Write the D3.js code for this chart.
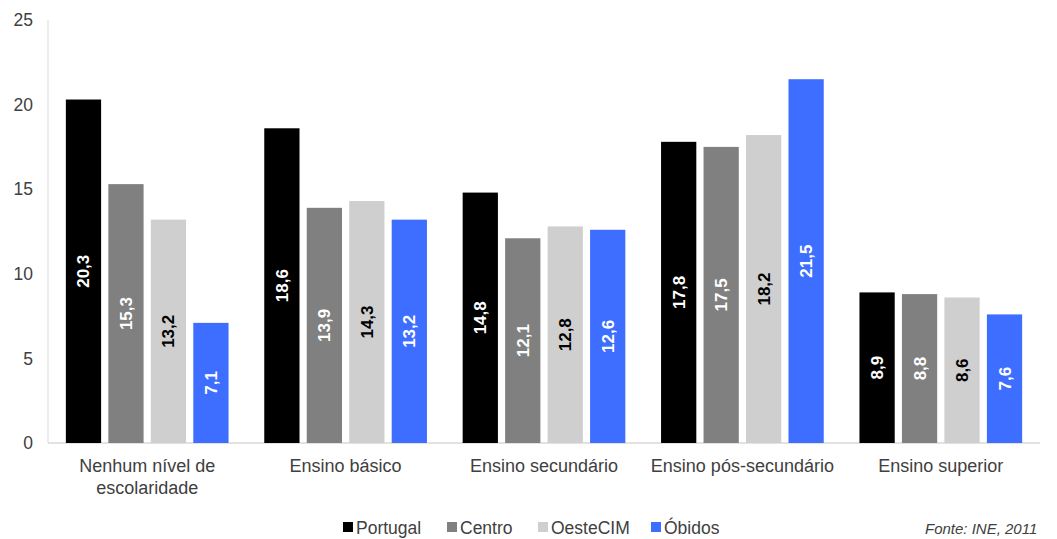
<!DOCTYPE html>
<html><head><meta charset="utf-8">
<script src="https://cdn.jsdelivr.net/npm/d3@7"></script>
<style>body{margin:0;background:#fff;overflow:hidden}svg{display:block;font-family:"Liberation Sans",Arial,sans-serif}</style>
</head><body><svg id="c" width="1057" height="539"></svg>
<script>
const categories = ["Nenhum nível de|escolaridade","Ensino básico","Ensino secundário","Ensino pós-secundário","Ensino superior"];
const seriesNames = ["Portugal","Centro","OesteCIM","Óbidos"];
const portugal = [20.3,18.6,14.8,17.8,8.9];
const centro = [15.3,13.9,12.1,17.5,8.8];
const oeste = [13.2,14.3,12.8,18.2,8.6];
const obidos = [7.1,13.2,12.6,21.5,7.6];
const yTicks = [0,5,10,15,20,25];
const colors = ["#000000","#808080","#d0cfcf","#3d6eff"];
const labelColors = ["#ffffff","#ffffff","#000000","#ffffff"];
const values = [portugal, centro, oeste, obidos];

const svg = d3.select("#c");
const pLeft = 48, pRight = 1040, pTop = 20, pBottom = 443;
const y = d3.scaleLinear().domain([0,25]).range([pBottom, pTop]);
const x0 = d3.scaleBand().domain(categories).range([pLeft, pRight]).paddingInner(0.18).paddingOuter(0.09);
const x1 = d3.scaleBand().domain(seriesNames).range([0, x0.bandwidth()]).paddingInner(0.17);

svg.append("line").attr("x1",pLeft).attr("x2",pLeft).attr("y1",pTop).attr("y2",pBottom).attr("stroke","#d9d9d9");
svg.append("line").attr("x1",pLeft).attr("x2",pRight).attr("y1",pBottom).attr("y2",pBottom).attr("stroke","#d9d9d9").attr("stroke-width",1.5);

const yAxis = d3.axisLeft(y).tickValues(yTicks).tickSize(0).tickPadding(0);
const ga = svg.append("g").attr("transform",`translate(${pLeft-15},0)`).call(yAxis);
ga.select(".domain").remove();
ga.selectAll("text").attr("font-size",17.5).attr("fill","#404040").attr("font-family","Liberation Sans, Arial, sans-serif");

categories.forEach((cat,ci)=>{
  const g = svg.append("g").attr("transform",`translate(${x0(cat)},0)`);
  seriesNames.forEach((s,si)=>{
    const v = values[si][ci];
    const bx = x1(s), bw = x1.bandwidth();
    g.append("rect").attr("x",bx).attr("y",y(v)).attr("width",bw).attr("height",y(0)-y(v)).attr("fill",colors[si]);
    const cy = (y(v)+y(0))/2, cx = bx+bw/2;
    g.append("text").attr("transform",`translate(${cx+6},${cy}) rotate(-90)`)
      .attr("text-anchor","middle").attr("font-size",17).attr("font-weight","bold")
      .attr("fill",labelColors[si]).text(String(v.toFixed(1)).replace(".",","));
  });
  const lines = cat.split("|");
  const t = svg.append("text").attr("x",x0(cat)+x0.bandwidth()/2).attr("y",472)
    .attr("text-anchor","middle").attr("font-size",18).attr("fill","#404040");
  lines.forEach((l,i)=>t.append("tspan").attr("x",x0(cat)+x0.bandwidth()/2).attr("dy",i?22:0).text(l));
});

const legX = [343,447,538,651];
seriesNames.forEach((s,i)=>{
  svg.append("rect").attr("x",legX[i]).attr("y",522).attr("width",10).attr("height",10).attr("fill",colors[i]);
  svg.append("text").attr("x",legX[i]+13).attr("y",534).attr("font-size",17.5).attr("fill","#404040").text(s);
});
svg.append("text").attr("x",925).attr("y",534).attr("font-size",15).attr("font-style","italic").attr("fill","#404040").text("Fonte: INE, 2011");
</script></body></html>
